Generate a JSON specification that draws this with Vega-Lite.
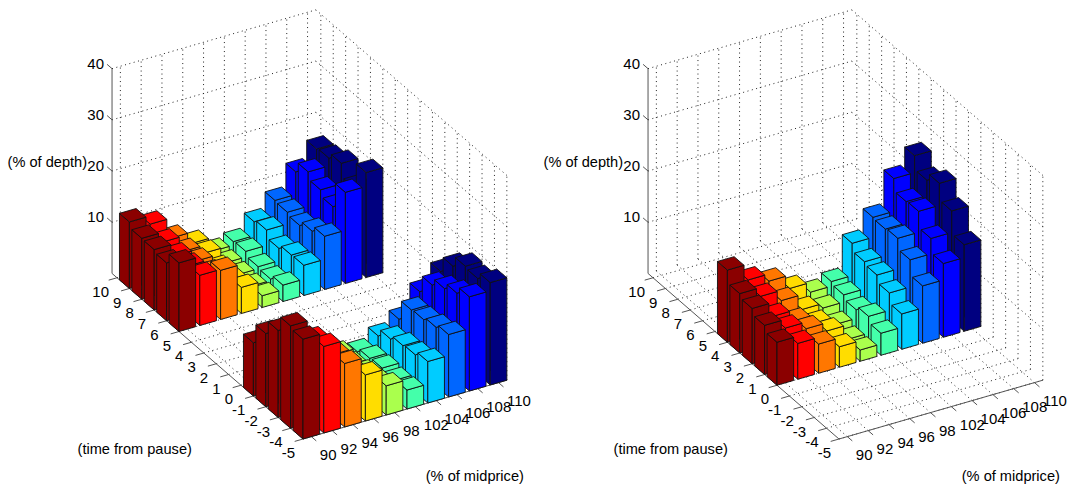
{"$schema":"https://vega.github.io/schema/vega-lite/v6.json","width":1070,"height":489,"autosize":{"type":"fit","contains":"padding"},"padding":0,"background":"white","config":{"view":{"stroke":null},"text":{"font":"Liberation Sans","color":"#000"}},
"datasets":{
"lines":[
{"kind":"grid","t1":-5.4,"i1":-0.4,"d1":0,"t2":-5.4,"i2":9.4,"d2":0},{"kind":"grid","t1":-4.4,"i1":-0.4,"d1":0,"t2":-4.4,"i2":9.4,"d2":0},{"kind":"grid","t1":-3.4,"i1":-0.4,"d1":0,"t2":-3.4,"i2":9.4,"d2":0},{"kind":"grid","t1":-2.4,"i1":-0.4,"d1":0,"t2":-2.4,"i2":9.4,"d2":0},{"kind":"grid","t1":-1.4,"i1":-0.4,"d1":0,"t2":-1.4,"i2":9.4,"d2":0},{"kind":"grid","t1":-0.4,"i1":-0.4,"d1":0,"t2":-0.4,"i2":9.4,"d2":0},{"kind":"grid","t1":0.6,"i1":-0.4,"d1":0,"t2":0.6,"i2":9.4,"d2":0},{"kind":"grid","t1":1.6,"i1":-0.4,"d1":0,"t2":1.6,"i2":9.4,"d2":0},{"kind":"grid","t1":2.6,"i1":-0.4,"d1":0,"t2":2.6,"i2":9.4,"d2":0},{"kind":"grid","t1":3.6,"i1":-0.4,"d1":0,"t2":3.6,"i2":9.4,"d2":0},{"kind":"grid","t1":4.6,"i1":-0.4,"d1":0,"t2":4.6,"i2":9.4,"d2":0},{"kind":"grid","t1":5.6,"i1":-0.4,"d1":0,"t2":5.6,"i2":9.4,"d2":0},{"kind":"grid","t1":6.6,"i1":-0.4,"d1":0,"t2":6.6,"i2":9.4,"d2":0},{"kind":"grid","t1":7.6,"i1":-0.4,"d1":0,"t2":7.6,"i2":9.4,"d2":0},{"kind":"grid","t1":8.6,"i1":-0.4,"d1":0,"t2":8.6,"i2":9.4,"d2":0},{"kind":"grid","t1":9.6,"i1":-0.4,"d1":0,"t2":9.6,"i2":9.4,"d2":0},
{"kind":"grid","t1":10,"i1":0,"d1":0,"t2":-5.4,"i2":0,"d2":0},{"kind":"grid","t1":10,"i1":1,"d1":0,"t2":-5.4,"i2":1,"d2":0},{"kind":"grid","t1":10,"i1":2,"d1":0,"t2":-5.4,"i2":2,"d2":0},{"kind":"grid","t1":10,"i1":3,"d1":0,"t2":-5.4,"i2":3,"d2":0},{"kind":"grid","t1":10,"i1":4,"d1":0,"t2":-5.4,"i2":4,"d2":0},{"kind":"grid","t1":10,"i1":5,"d1":0,"t2":-5.4,"i2":5,"d2":0},{"kind":"grid","t1":10,"i1":6,"d1":0,"t2":-5.4,"i2":6,"d2":0},{"kind":"grid","t1":10,"i1":7,"d1":0,"t2":-5.4,"i2":7,"d2":0},{"kind":"grid","t1":10,"i1":8,"d1":0,"t2":-5.4,"i2":8,"d2":0},{"kind":"grid","t1":10,"i1":9,"d1":0,"t2":-5.4,"i2":9,"d2":0},
{"kind":"grid","t1":10,"i1":0,"d1":0,"t2":10,"i2":0,"d2":40},{"kind":"grid","t1":10,"i1":1,"d1":0,"t2":10,"i2":1,"d2":40},{"kind":"grid","t1":10,"i1":2,"d1":0,"t2":10,"i2":2,"d2":40},{"kind":"grid","t1":10,"i1":3,"d1":0,"t2":10,"i2":3,"d2":40},{"kind":"grid","t1":10,"i1":4,"d1":0,"t2":10,"i2":4,"d2":40},{"kind":"grid","t1":10,"i1":5,"d1":0,"t2":10,"i2":5,"d2":40},{"kind":"grid","t1":10,"i1":6,"d1":0,"t2":10,"i2":6,"d2":40},{"kind":"grid","t1":10,"i1":7,"d1":0,"t2":10,"i2":7,"d2":40},{"kind":"grid","t1":10,"i1":8,"d1":0,"t2":10,"i2":8,"d2":40},{"kind":"grid","t1":10,"i1":9,"d1":0,"t2":10,"i2":9,"d2":40},
{"kind":"grid","t1":10,"i1":-0.4,"d1":10,"t2":10,"i2":9.4,"d2":10},{"kind":"grid","t1":10,"i1":-0.4,"d1":20,"t2":10,"i2":9.4,"d2":20},{"kind":"grid","t1":10,"i1":-0.4,"d1":30,"t2":10,"i2":9.4,"d2":30},{"kind":"grid","t1":10,"i1":-0.4,"d1":40,"t2":10,"i2":9.4,"d2":40},
{"kind":"grid","t1":-5.4,"i1":9.4,"d1":0,"t2":-5.4,"i2":9.4,"d2":40},{"kind":"grid","t1":-4.4,"i1":9.4,"d1":0,"t2":-4.4,"i2":9.4,"d2":40},{"kind":"grid","t1":-3.4,"i1":9.4,"d1":0,"t2":-3.4,"i2":9.4,"d2":40},{"kind":"grid","t1":-2.4,"i1":9.4,"d1":0,"t2":-2.4,"i2":9.4,"d2":40},{"kind":"grid","t1":-1.4,"i1":9.4,"d1":0,"t2":-1.4,"i2":9.4,"d2":40},{"kind":"grid","t1":-0.4,"i1":9.4,"d1":0,"t2":-0.4,"i2":9.4,"d2":40},{"kind":"grid","t1":0.6,"i1":9.4,"d1":0,"t2":0.6,"i2":9.4,"d2":40},{"kind":"grid","t1":1.6,"i1":9.4,"d1":0,"t2":1.6,"i2":9.4,"d2":40},{"kind":"grid","t1":2.6,"i1":9.4,"d1":0,"t2":2.6,"i2":9.4,"d2":40},{"kind":"grid","t1":3.6,"i1":9.4,"d1":0,"t2":3.6,"i2":9.4,"d2":40},{"kind":"grid","t1":4.6,"i1":9.4,"d1":0,"t2":4.6,"i2":9.4,"d2":40},{"kind":"grid","t1":5.6,"i1":9.4,"d1":0,"t2":5.6,"i2":9.4,"d2":40},{"kind":"grid","t1":6.6,"i1":9.4,"d1":0,"t2":6.6,"i2":9.4,"d2":40},{"kind":"grid","t1":7.6,"i1":9.4,"d1":0,"t2":7.6,"i2":9.4,"d2":40},{"kind":"grid","t1":8.6,"i1":9.4,"d1":0,"t2":8.6,"i2":9.4,"d2":40},{"kind":"grid","t1":9.6,"i1":9.4,"d1":0,"t2":9.6,"i2":9.4,"d2":40},
{"kind":"grid","t1":-5.4,"i1":9.4,"d1":10,"t2":10,"i2":9.4,"d2":10},{"kind":"grid","t1":-5.4,"i1":9.4,"d1":20,"t2":10,"i2":9.4,"d2":20},{"kind":"grid","t1":-5.4,"i1":9.4,"d1":30,"t2":10,"i2":9.4,"d2":30},{"kind":"grid","t1":-5.4,"i1":9.4,"d1":40,"t2":10,"i2":9.4,"d2":40},
{"kind":"axis","t1":10,"i1":-0.4,"d1":0,"t2":10,"i2":-0.4,"d2":40},{"kind":"axis","t1":10,"i1":-0.4,"d1":0,"t2":-5.4,"i2":-0.4,"d2":0},{"kind":"axis","t1":-5.4,"i1":-0.4,"d1":0,"t2":-5.4,"i2":9.4,"d2":0},
{"kind":"axis","t1":10,"i1":-0.4,"d1":10,"t2":10.4,"i2":-0.4,"d2":10},{"kind":"axis","t1":10,"i1":-0.4,"d1":20,"t2":10.4,"i2":-0.4,"d2":20},{"kind":"axis","t1":10,"i1":-0.4,"d1":30,"t2":10.4,"i2":-0.4,"d2":30},{"kind":"axis","t1":10,"i1":-0.4,"d1":40,"t2":10.4,"i2":-0.4,"d2":40},
{"kind":"axis","t1":-5.4,"i1":-0.4,"d1":0,"t2":-5.4,"i2":-0.8,"d2":0},{"kind":"axis","t1":-4.4,"i1":-0.4,"d1":0,"t2":-4.4,"i2":-0.8,"d2":0},{"kind":"axis","t1":-3.4,"i1":-0.4,"d1":0,"t2":-3.4,"i2":-0.8,"d2":0},{"kind":"axis","t1":-2.4,"i1":-0.4,"d1":0,"t2":-2.4,"i2":-0.8,"d2":0},{"kind":"axis","t1":-1.4,"i1":-0.4,"d1":0,"t2":-1.4,"i2":-0.8,"d2":0},{"kind":"axis","t1":-0.4,"i1":-0.4,"d1":0,"t2":-0.4,"i2":-0.8,"d2":0},{"kind":"axis","t1":0.6,"i1":-0.4,"d1":0,"t2":0.6,"i2":-0.8,"d2":0},{"kind":"axis","t1":1.6,"i1":-0.4,"d1":0,"t2":1.6,"i2":-0.8,"d2":0},{"kind":"axis","t1":2.6,"i1":-0.4,"d1":0,"t2":2.6,"i2":-0.8,"d2":0},{"kind":"axis","t1":3.6,"i1":-0.4,"d1":0,"t2":3.6,"i2":-0.8,"d2":0},{"kind":"axis","t1":4.6,"i1":-0.4,"d1":0,"t2":4.6,"i2":-0.8,"d2":0},{"kind":"axis","t1":5.6,"i1":-0.4,"d1":0,"t2":5.6,"i2":-0.8,"d2":0},{"kind":"axis","t1":6.6,"i1":-0.4,"d1":0,"t2":6.6,"i2":-0.8,"d2":0},{"kind":"axis","t1":7.6,"i1":-0.4,"d1":0,"t2":7.6,"i2":-0.8,"d2":0},{"kind":"axis","t1":8.6,"i1":-0.4,"d1":0,"t2":8.6,"i2":-0.8,"d2":0},{"kind":"axis","t1":9.6,"i1":-0.4,"d1":0,"t2":9.6,"i2":-0.8,"d2":0},
{"kind":"axis","t1":-5.4,"i1":0,"d1":0,"t2":-5.8,"i2":0,"d2":0},{"kind":"axis","t1":-5.4,"i1":1,"d1":0,"t2":-5.8,"i2":1,"d2":0},{"kind":"axis","t1":-5.4,"i1":2,"d1":0,"t2":-5.8,"i2":2,"d2":0},{"kind":"axis","t1":-5.4,"i1":3,"d1":0,"t2":-5.8,"i2":3,"d2":0},{"kind":"axis","t1":-5.4,"i1":4,"d1":0,"t2":-5.8,"i2":4,"d2":0},{"kind":"axis","t1":-5.4,"i1":5,"d1":0,"t2":-5.8,"i2":5,"d2":0},{"kind":"axis","t1":-5.4,"i1":6,"d1":0,"t2":-5.8,"i2":6,"d2":0},{"kind":"axis","t1":-5.4,"i1":7,"d1":0,"t2":-5.8,"i2":7,"d2":0},{"kind":"axis","t1":-5.4,"i1":8,"d1":0,"t2":-5.8,"i2":8,"d2":0},{"kind":"axis","t1":-5.4,"i1":9,"d1":0,"t2":-5.8,"i2":9,"d2":0}
],
"labels":[
{"kind":"time","text":"10","t":9.6,"i":-0.4,"d":0},{"kind":"time","text":"9","t":8.6,"i":-0.4,"d":0},{"kind":"time","text":"8","t":7.6,"i":-0.4,"d":0},{"kind":"time","text":"7","t":6.6,"i":-0.4,"d":0},{"kind":"time","text":"6","t":5.6,"i":-0.4,"d":0},{"kind":"time","text":"5","t":4.6,"i":-0.4,"d":0},{"kind":"time","text":"4","t":3.6,"i":-0.4,"d":0},{"kind":"time","text":"3","t":2.6,"i":-0.4,"d":0},{"kind":"time","text":"2","t":1.6,"i":-0.4,"d":0},{"kind":"time","text":"1","t":0.6,"i":-0.4,"d":0},{"kind":"time","text":"0","t":-0.4,"i":-0.4,"d":0},{"kind":"time","text":"-1","t":-1.4,"i":-0.4,"d":0},{"kind":"time","text":"-2","t":-2.4,"i":-0.4,"d":0},{"kind":"time","text":"-3","t":-3.4,"i":-0.4,"d":0},{"kind":"time","text":"-4","t":-4.4,"i":-0.4,"d":0},{"kind":"time","text":"-5","t":-5.4,"i":-0.4,"d":0},
{"kind":"price","text":"90","t":-5.4,"i":0,"d":0},{"kind":"price","text":"92","t":-5.4,"i":1,"d":0},{"kind":"price","text":"94","t":-5.4,"i":2,"d":0},{"kind":"price","text":"96","t":-5.4,"i":3,"d":0},{"kind":"price","text":"98","t":-5.4,"i":4,"d":0},{"kind":"price","text":"102","t":-5.4,"i":5,"d":0},{"kind":"price","text":"104","t":-5.4,"i":6,"d":0},{"kind":"price","text":"106","t":-5.4,"i":7,"d":0},{"kind":"price","text":"108","t":-5.4,"i":8,"d":0},{"kind":"price","text":"110","t":-5.4,"i":9,"d":0},
{"kind":"depth","text":"10","t":10,"i":-0.4,"d":10},{"kind":"depth","text":"20","t":10,"i":-0.4,"d":20},{"kind":"depth","text":"30","t":10,"i":-0.4,"d":30},{"kind":"depth","text":"40","t":10,"i":-0.4,"d":40},
{"kind":"depthTitle","text":"(% of depth)","t":10,"i":-0.4,"d":21.6},
{"kind":"title","text":"(time from pause)","t":-2.78,"i":-6.93,"d":0},
{"kind":"title","text":"(% of midprice)","t":-11.49,"i":4.23,"d":0}
],
"bars":[
{"panel":"A","time":9,"price":110,"depth":16.7},{"panel":"A","time":9,"price":108,"depth":13.4},{"panel":"A","time":9,"price":106,"depth":9},{"panel":"A","time":9,"price":104,"depth":6},{"panel":"A","time":9,"price":102,"depth":3.3},{"panel":"A","time":9,"price":98,"depth":2.6},{"panel":"A","time":9,"price":96,"depth":5.3},{"panel":"A","time":9,"price":94,"depth":7.5},{"panel":"A","time":9,"price":92,"depth":11.4},{"panel":"A","time":9,"price":90,"depth":13},
{"panel":"A","time":8,"price":110,"depth":17},{"panel":"A","time":8,"price":108,"depth":15.5},{"panel":"A","time":8,"price":106,"depth":8.8},{"panel":"A","time":8,"price":104,"depth":6.5},{"panel":"A","time":8,"price":102,"depth":3.5},{"panel":"A","time":8,"price":98,"depth":2.4},{"panel":"A","time":8,"price":96,"depth":5.5},{"panel":"A","time":8,"price":94,"depth":7},{"panel":"A","time":8,"price":92,"depth":10},{"panel":"A","time":8,"price":90,"depth":11.9},
{"panel":"A","time":7,"price":110,"depth":18.1},{"panel":"A","time":7,"price":108,"depth":14.1},{"panel":"A","time":7,"price":106,"depth":8.3},{"panel":"A","time":7,"price":104,"depth":5},{"panel":"A","time":7,"price":102,"depth":2.6},{"panel":"A","time":7,"price":98,"depth":2.2},{"panel":"A","time":7,"price":96,"depth":4.6},{"panel":"A","time":7,"price":94,"depth":7.2},{"panel":"A","time":7,"price":92,"depth":9.4},{"panel":"A","time":7,"price":90,"depth":11.8},
{"panel":"A","time":6,"price":110,"depth":15.5},{"panel":"A","time":6,"price":108,"depth":12.9},{"panel":"A","time":6,"price":106,"depth":9.3},{"panel":"A","time":6,"price":104,"depth":5.8},{"panel":"A","time":6,"price":102,"depth":2.3},{"panel":"A","time":6,"price":98,"depth":2},{"panel":"A","time":6,"price":96,"depth":4.5},{"panel":"A","time":6,"price":94,"depth":7},{"panel":"A","time":6,"price":92,"depth":9.5},{"panel":"A","time":6,"price":90,"depth":11.3},
{"panel":"A","time":5,"price":110,"depth":20.5},{"panel":"A","time":5,"price":108,"depth":17.8},{"panel":"A","time":5,"price":106,"depth":10.4},{"panel":"A","time":5,"price":104,"depth":5.9},{"panel":"A","time":5,"price":102,"depth":3.2},{"panel":"A","time":5,"price":98,"depth":2.3},{"panel":"A","time":5,"price":96,"depth":5.1},{"panel":"A","time":5,"price":94,"depth":9.6},{"panel":"A","time":5,"price":92,"depth":9.8},{"panel":"A","time":5,"price":90,"depth":13.4},
{"panel":"A","time":-1,"price":110,"depth":13.8},{"panel":"A","time":-1,"price":108,"depth":11},{"panel":"A","time":-1,"price":106,"depth":6.8},{"panel":"A","time":-1,"price":104,"depth":4.7},{"panel":"A","time":-1,"price":102,"depth":2.8},{"panel":"A","time":-1,"price":98,"depth":3.5},{"panel":"A","time":-1,"price":96,"depth":5},{"panel":"A","time":-1,"price":94,"depth":7},{"panel":"A","time":-1,"price":92,"depth":9},{"panel":"A","time":-1,"price":90,"depth":10.4},
{"panel":"A","time":-2,"price":110,"depth":16.9},{"panel":"A","time":-2,"price":108,"depth":14.4},{"panel":"A","time":-2,"price":106,"depth":10.7},{"panel":"A","time":-2,"price":104,"depth":6.2},{"panel":"A","time":-2,"price":102,"depth":3.6},{"panel":"A","time":-2,"price":98,"depth":3.5},{"panel":"A","time":-2,"price":96,"depth":5},{"panel":"A","time":-2,"price":94,"depth":8},{"panel":"A","time":-2,"price":92,"depth":11},{"panel":"A","time":-2,"price":90,"depth":14.3},
{"panel":"A","time":-3,"price":110,"depth":19},{"panel":"A","time":-3,"price":108,"depth":15.8},{"panel":"A","time":-3,"price":106,"depth":10.9},{"panel":"A","time":-3,"price":104,"depth":7},{"panel":"A","time":-3,"price":102,"depth":3.8},{"panel":"A","time":-3,"price":98,"depth":4},{"panel":"A","time":-3,"price":96,"depth":6},{"panel":"A","time":-3,"price":94,"depth":10},{"panel":"A","time":-3,"price":92,"depth":13},{"panel":"A","time":-3,"price":90,"depth":17},
{"panel":"A","time":-4,"price":110,"depth":18.7},{"panel":"A","time":-4,"price":108,"depth":17},{"panel":"A","time":-4,"price":106,"depth":11.5},{"panel":"A","time":-4,"price":104,"depth":7.3},{"panel":"A","time":-4,"price":102,"depth":3.5},{"panel":"A","time":-4,"price":98,"depth":4.5},{"panel":"A","time":-4,"price":96,"depth":7},{"panel":"A","time":-4,"price":94,"depth":12},{"panel":"A","time":-4,"price":92,"depth":16.1},{"panel":"A","time":-4,"price":90,"depth":20},
{"panel":"A","time":-5,"price":110,"depth":20},{"panel":"A","time":-5,"price":108,"depth":18.4},{"panel":"A","time":-5,"price":106,"depth":12.2},{"panel":"A","time":-5,"price":104,"depth":8.1},{"panel":"A","time":-5,"price":102,"depth":3.7},{"panel":"A","time":-5,"price":98,"depth":5.7},{"panel":"A","time":-5,"price":96,"depth":9},{"panel":"A","time":-5,"price":94,"depth":12.4},{"panel":"A","time":-5,"price":92,"depth":16.9},{"panel":"A","time":-5,"price":90,"depth":19.5},
{"panel":"B","time":4,"price":110,"depth":25.9},{"panel":"B","time":4,"price":108,"depth":22.6},{"panel":"B","time":4,"price":106,"depth":16.2},{"panel":"B","time":4,"price":104,"depth":12.3},{"panel":"B","time":4,"price":102,"depth":6},{"panel":"B","time":4,"price":98,"depth":5.1},{"panel":"B","time":4,"price":96,"depth":7},{"panel":"B","time":4,"price":94,"depth":9.6},{"panel":"B","time":4,"price":92,"depth":11},{"panel":"B","time":4,"price":90,"depth":14.1},
{"panel":"B","time":3,"price":110,"depth":23.2},{"panel":"B","time":3,"price":108,"depth":20.2},{"panel":"B","time":3,"price":106,"depth":16},{"panel":"B","time":3,"price":104,"depth":10.8},{"panel":"B","time":3,"price":102,"depth":5.5},{"panel":"B","time":3,"price":98,"depth":4.1},{"panel":"B","time":3,"price":96,"depth":5},{"panel":"B","time":3,"price":94,"depth":7.9},{"panel":"B","time":3,"price":92,"depth":9.9},{"panel":"B","time":3,"price":90,"depth":11.6},
{"panel":"B","time":2,"price":110,"depth":24.7},{"panel":"B","time":2,"price":108,"depth":20.4},{"panel":"B","time":2,"price":106,"depth":16.3},{"panel":"B","time":2,"price":104,"depth":10.3},{"panel":"B","time":2,"price":102,"depth":4.7},{"panel":"B","time":2,"price":98,"depth":3},{"panel":"B","time":2,"price":96,"depth":4.4},{"panel":"B","time":2,"price":94,"depth":6},{"panel":"B","time":2,"price":92,"depth":8.1},{"panel":"B","time":2,"price":90,"depth":10.8},
{"panel":"B","time":1,"price":110,"depth":21.4},{"panel":"B","time":1,"price":108,"depth":17.2},{"panel":"B","time":1,"price":106,"depth":14.2},{"panel":"B","time":1,"price":104,"depth":8.9},{"panel":"B","time":1,"price":102,"depth":5.5},{"panel":"B","time":1,"price":98,"depth":2.2},{"panel":"B","time":1,"price":96,"depth":5},{"panel":"B","time":1,"price":94,"depth":6.6},{"panel":"B","time":1,"price":92,"depth":7.9},{"panel":"B","time":1,"price":90,"depth":9.6},
{"panel":"B","time":0,"price":110,"depth":16.9},{"panel":"B","time":0,"price":108,"depth":14.4},{"panel":"B","time":0,"price":106,"depth":11.2},{"panel":"B","time":0,"price":104,"depth":6.9},{"panel":"B","time":0,"price":102,"depth":4.3},{"panel":"B","time":0,"price":98,"depth":2.2},{"panel":"B","time":0,"price":96,"depth":4},{"panel":"B","time":0,"price":94,"depth":5.7},{"panel":"B","time":0,"price":92,"depth":7},{"panel":"B","time":0,"price":90,"depth":8.4}
]},
"layer":[
{"data":{"name":"lines"},"transform":[{"filter":"datum.kind=='grid'"},{"calculate":"[0,536]","as":"off"},{"flatten":["off"]},{"calculate":"datum.off+303-12.4*(datum.t1+5.4)+20.8*(datum.i1+0.4)","as":"sx"},{"calculate":"datum.off+303-12.4*(datum.t2+5.4)+20.8*(datum.i2+0.4)","as":"sx2"},{"calculate":"439-10.75*(datum.t1+5.4)-6*(datum.i1+0.4)-5.12*datum.d1","as":"sy"},{"calculate":"439-10.75*(datum.t2+5.4)-6*(datum.i2+0.4)-5.12*datum.d2","as":"sy2"}],"mark":{"type":"rule","stroke":"#222","strokeWidth":1,"strokeDash":[1,3.5]},"encoding":{"x":{"field":"sx","type":"quantitative","scale":{"domain":[0,1070],"nice":false,"zero":false},"axis":null},"x2":{"field":"sx2"},"y":{"field":"sy","type":"quantitative","scale":{"domain":[0,489],"reverse":true,"nice":false,"zero":false},"axis":null},"y2":{"field":"sy2"}}},
{"data":{"name":"lines"},"transform":[{"filter":"datum.kind=='axis'"},{"calculate":"[0,536]","as":"off"},{"flatten":["off"]},{"calculate":"datum.off+303-12.4*(datum.t1+5.4)+20.8*(datum.i1+0.4)","as":"sx"},{"calculate":"datum.off+303-12.4*(datum.t2+5.4)+20.8*(datum.i2+0.4)","as":"sx2"},{"calculate":"439-10.75*(datum.t1+5.4)-6*(datum.i1+0.4)-5.12*datum.d1","as":"sy"},{"calculate":"439-10.75*(datum.t2+5.4)-6*(datum.i2+0.4)-5.12*datum.d2","as":"sy2"}],"mark":{"type":"rule","stroke":"#555","strokeWidth":1},"encoding":{"x":{"field":"sx","type":"quantitative","scale":{"domain":[0,1070],"nice":false,"zero":false},"axis":null},"x2":{"field":"sx2"},"y":{"field":"sy","type":"quantitative","scale":{"domain":[0,489],"reverse":true,"nice":false,"zero":false},"axis":null},"y2":{"field":"sy2"}}},
{"data":{"name":"bars"},"transform":[{"calculate":"datum.price<100?(datum.price-90)/2:(datum.price-92)/2","as":"index"},{"calculate":"[0,1,2,3,4,5,6,7,8,9,10,11]","as":"k"},{"flatten":["k"]},{"calculate":"datum.panel+'_'+datum.time+'_'+datum.price+'_'+floor(datum.k/4)","as":"face"},{"calculate":"datum.time-0.4+0.8*[0,1,1,0,0,0,0,0,0,0,1,1][datum.k]","as":"T"},{"calculate":"datum.index-0.4+0.8*[0,0,0,0,0,1,1,0,0,1,1,0][datum.k]","as":"I"},{"calculate":"(datum.panel=='A'?0:536)+303-12.4*(datum.T+5.4)+20.8*(datum.I+0.4)","as":"sx"},{"calculate":"439-10.75*(datum.T+5.4)-6*(datum.I+0.4)-5.12*datum.depth*[0,0,1,1,0,0,1,1,1,1,1,1][datum.k]","as":"sy"}],"mark":{"type":"line","interpolate":"linear-closed","filled":true,"stroke":"#111","strokeWidth":0.9,"strokeJoin":"miter"},"encoding":{"x":{"field":"sx","type":"quantitative","scale":{"domain":[0,1070],"nice":false,"zero":false},"axis":null},"y":{"field":"sy","type":"quantitative","scale":{"domain":[0,489],"reverse":true,"nice":false,"zero":false},"axis":null},"detail":{"field":"face"},"order":{"field":"k","type":"quantitative"},"fill":{"field":"price","type":"ordinal","scale":{"domain":[90,92,94,96,98,102,104,106,108,110],"range":["#8b0000","#ff0000","#ff7700","#ffdd00","#aaff4d","#44ffaa","#00ccff","#0066ff","#0000ff","#000080"]},"legend":null}}},
{"data":{"name":"labels"},"transform":[{"filter":"datum.kind=='time'"},{"calculate":"[0,536]","as":"off"},{"flatten":["off"]},{"calculate":"datum.off+303-12.4*(datum.t+5.4)+20.8*(datum.i+0.4)","as":"sx"},{"calculate":"439-10.75*(datum.t+5.4)-6*(datum.i+0.4)-5.12*datum.d","as":"sy"}],"mark":{"type":"text","align":"right","baseline":"middle","dx":-8,"dy":14,"fontSize":15},"encoding":{"x":{"field":"sx","type":"quantitative","scale":{"domain":[0,1070],"nice":false,"zero":false},"axis":null},"y":{"field":"sy","type":"quantitative","scale":{"domain":[0,489],"reverse":true,"nice":false,"zero":false},"axis":null},"text":{"field":"text"}}},
{"data":{"name":"labels"},"transform":[{"filter":"datum.kind=='price'"},{"calculate":"[0,536]","as":"off"},{"flatten":["off"]},{"calculate":"datum.off+303-12.4*(datum.t+5.4)+20.8*(datum.i+0.4)","as":"sx"},{"calculate":"439-10.75*(datum.t+5.4)-6*(datum.i+0.4)-5.12*datum.d","as":"sy"}],"mark":{"type":"text","align":"left","baseline":"middle","dx":8.5,"dy":18,"fontSize":15},"encoding":{"x":{"field":"sx","type":"quantitative","scale":{"domain":[0,1070],"nice":false,"zero":false},"axis":null},"y":{"field":"sy","type":"quantitative","scale":{"domain":[0,489],"reverse":true,"nice":false,"zero":false},"axis":null},"text":{"field":"text"}}},
{"data":{"name":"labels"},"transform":[{"filter":"datum.kind=='depth'"},{"calculate":"[0,536]","as":"off"},{"flatten":["off"]},{"calculate":"datum.off+303-12.4*(datum.t+5.4)+20.8*(datum.i+0.4)","as":"sx"},{"calculate":"439-10.75*(datum.t+5.4)-6*(datum.i+0.4)-5.12*datum.d","as":"sy"}],"mark":{"type":"text","align":"right","baseline":"middle","dx":-8,"dy":-5,"fontSize":15},"encoding":{"x":{"field":"sx","type":"quantitative","scale":{"domain":[0,1070],"nice":false,"zero":false},"axis":null},"y":{"field":"sy","type":"quantitative","scale":{"domain":[0,489],"reverse":true,"nice":false,"zero":false},"axis":null},"text":{"field":"text"}}},
{"data":{"name":"labels"},"transform":[{"filter":"datum.kind=='depthTitle'"},{"calculate":"[0,536]","as":"off"},{"flatten":["off"]},{"calculate":"datum.off+303-12.4*(datum.t+5.4)+20.8*(datum.i+0.4)","as":"sx"},{"calculate":"439-10.75*(datum.t+5.4)-6*(datum.i+0.4)-5.12*datum.d","as":"sy"}],"mark":{"type":"text","align":"right","baseline":"middle","dx":-25,"fontSize":14.6},"encoding":{"x":{"field":"sx","type":"quantitative","scale":{"domain":[0,1070],"nice":false,"zero":false},"axis":null},"y":{"field":"sy","type":"quantitative","scale":{"domain":[0,489],"reverse":true,"nice":false,"zero":false},"axis":null},"text":{"field":"text"}}},
{"data":{"name":"labels"},"transform":[{"filter":"datum.kind=='title'"},{"calculate":"[0,536]","as":"off"},{"flatten":["off"]},{"calculate":"datum.off+303-12.4*(datum.t+5.4)+20.8*(datum.i+0.4)","as":"sx"},{"calculate":"439-10.75*(datum.t+5.4)-6*(datum.i+0.4)-5.12*datum.d","as":"sy"}],"mark":{"type":"text","align":"center","baseline":"middle","fontSize":14.6},"encoding":{"x":{"field":"sx","type":"quantitative","scale":{"domain":[0,1070],"nice":false,"zero":false},"axis":null},"y":{"field":"sy","type":"quantitative","scale":{"domain":[0,489],"reverse":true,"nice":false,"zero":false},"axis":null},"text":{"field":"text"}}}
]}
